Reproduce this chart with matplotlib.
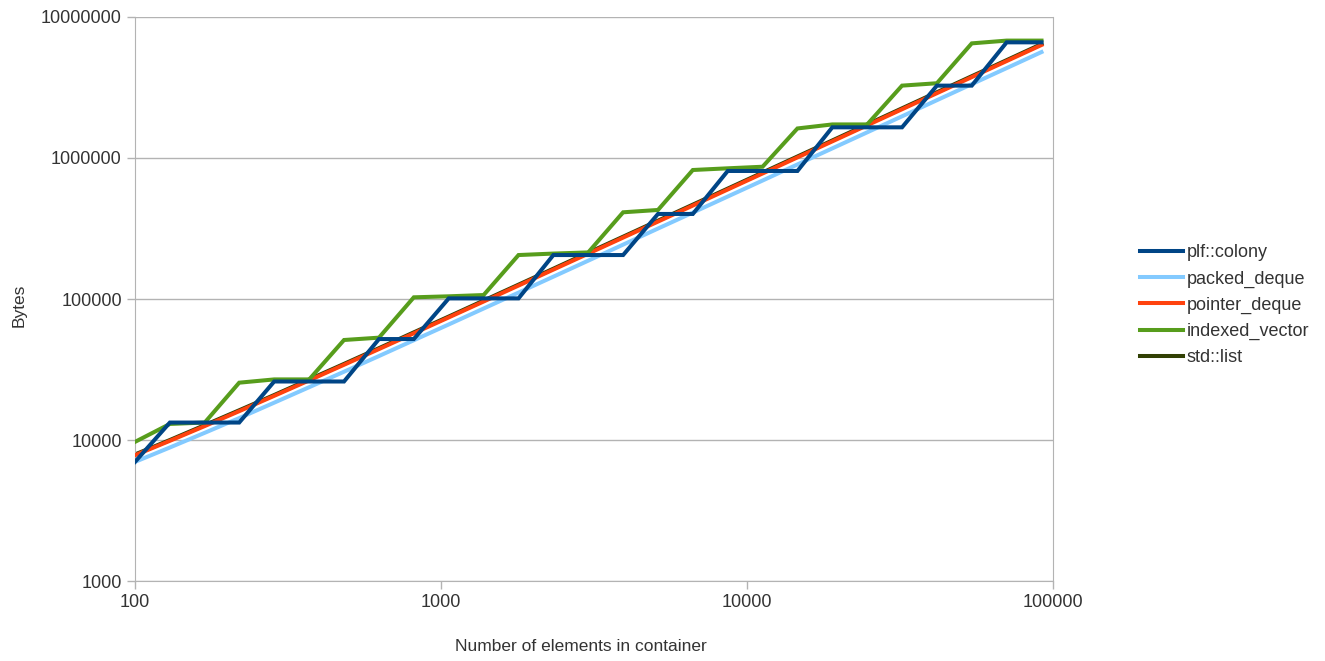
import matplotlib
matplotlib.use("Agg")
import matplotlib.pyplot as plt

plt.rcParams['font.family'] = ['Liberation Sans', 'DejaVu Sans']

# number of elements in container
n_elements = [100, 130, 169, 219, 285, 371, 482, 627, 815, 1060, 1378, 1792,
              2329, 3028, 3937, 5118, 6653, 8649, 11244, 14618, 19003, 24704,
              32115, 41750, 54275, 70558, 91725]

colony = [7000, 13300, 13300, 13300, 26000, 26000, 26000, 52000, 52000,
          101000, 101000, 101000, 205000, 205000, 205000, 401000, 401000,
          809000, 809000, 809000, 1650000, 1650000, 1650000, 3260000,
          3260000, 6610000, 6610000]

packed_deque = [7000, 8850, 11250, 14300, 18400, 23700, 30500, 39400, 51000,
                66000, 85600, 111000, 144000, 187000, 243000, 316000, 410000,
                533000, 692000, 900000, 1170000, 1520000, 1975000, 2570000,
                3340000, 4340000, 5640000]

pointer_deque = [7800, 9870, 12560, 16010, 20570, 26500, 34160, 44160, 57140,
                 74040, 95980, 124550, 161600, 209830, 272550, 354040, 459960,
                 597680, 776740, 1009540, 1312110, 1705480, 2216840, 2881650,
                 3745880, 4869400, 6330930]

indexed_vector = [9700, 13000, 13300, 25500, 26900, 26900, 51200, 53200,
                  102800, 104500, 106700, 205000, 210000, 214000, 412000,
                  428000, 822000, 845000, 867000, 1620000, 1730000, 1730000,
                  3260000, 3390000, 6500000, 6800000, 6800000]

std_list = [7900, 10000, 12750, 16250, 20850, 26900, 34650, 44800, 58000,
            75100, 97400, 126400, 164000, 213000, 276600, 359300, 466900,
            606600, 788400, 1024700, 1331800, 1731000, 2250000, 2925000,
            3802000, 4942000, 6426000]

series = [
    ('plf::colony', colony, '#004586'),
    ('packed_deque', packed_deque, '#83caff'),
    ('pointer_deque', pointer_deque, '#ff420e'),
    ('indexed_vector', indexed_vector, '#579d1c'),
    ('std::list', std_list, '#314004'),
]
zorders = [6, 3, 4, 5, 2]

fig = plt.figure(figsize=(13.25, 6.61), dpi=100)
ax = fig.add_axes([0.1019, 0.121, 0.6928, 0.8533])

for (name, vals, col), z in zip(series, zorders):
    ax.plot(n_elements, vals, color=col, lw=2.9, label=name, zorder=z,
            solid_joinstyle='miter')

ax.set_xscale('log')
ax.set_yscale('log')
ax.set_xlim(100, 100000)
ax.set_ylim(1000, 10000000)
ax.set_xticks([100, 1000, 10000, 100000])
ax.set_xticklabels(['100', '1000', '10000', '100000'])
ax.set_yticks([1000, 10000, 100000, 1000000, 10000000])
ax.set_yticklabels(['1000', '10000', '100000', '1000000', '10000000'])
ax.minorticks_off()
ax.grid(axis='y', color='#b3b3b3', lw=1)
ax.set_axisbelow(True)
for s in ax.spines.values():
    s.set_color('#b3b3b3')
ax.spines['top'].set_visible(False)
ax.tick_params(colors='#b3b3b3', labelcolor='#333333', labelsize=13,
               length=6, width=1)

ax.set_ylabel('Bytes', fontsize=12.5, color='#333333')
ax.set_xlabel('Number of elements in container', fontsize=12.5,
              color='#333333')
ax.xaxis.set_label_coords(0.486, -0.103)
ax.yaxis.set_label_coords(-0.118, 0.489)

leg = ax.legend(loc='center left', bbox_to_anchor=(1.077, 0.489), frameon=False,
                fontsize=13, handlelength=2.4, handletextpad=0.17,
                labelspacing=0.5)
for t in leg.get_texts():
    t.set_color('#333333')

fig.savefig('out.png', dpi=100)
